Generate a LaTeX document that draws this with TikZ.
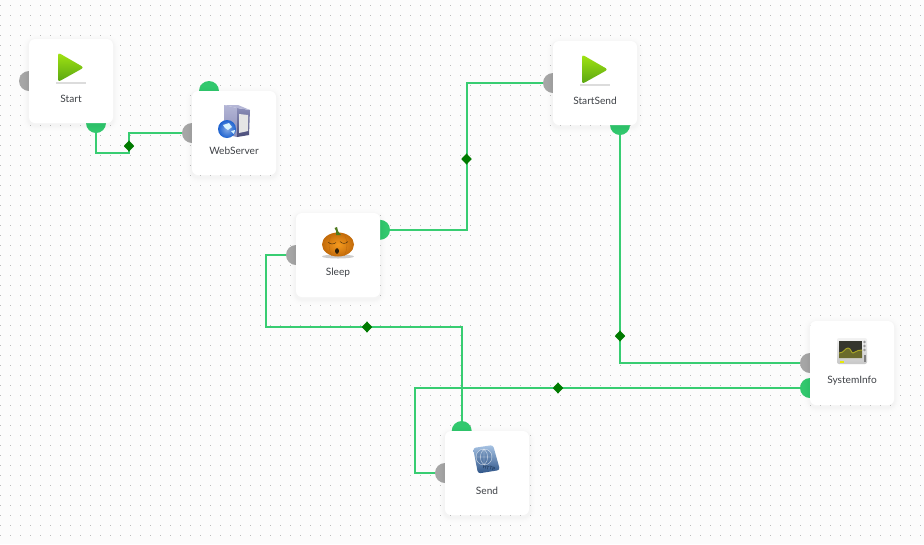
\documentclass[tikz,border=0pt]{standalone}
\usepackage{fontspec}
\setmainfont{Lato}
\usetikzlibrary{shapes.geometric}

\definecolor{canvas}{HTML}{FCFCFC}
\definecolor{griddot}{HTML}{BDBDBD}
\definecolor{wiregreen}{HTML}{38CD72}
\definecolor{portgreen}{HTML}{32C86E}
\definecolor{portgray}{HTML}{A6A6A6}
\definecolor{markgreen}{HTML}{007A00}
\definecolor{labeltext}{HTML}{3E4146}
\definecolor{playtop}{HTML}{A2E412}
\definecolor{playbottom}{HTML}{58A512}
\definecolor{towerlight}{HTML}{B4B6D6}
\definecolor{towermid}{HTML}{8A8DB8}
\definecolor{towerdark}{HTML}{4A4C78}
\definecolor{globeblue}{HTML}{1C62D0}
\definecolor{pumpkin}{HTML}{F59A1E}
\definecolor{pumpkindark}{HTML}{C26A0A}
\definecolor{stemgreen}{HTML}{4E7A1E}
\definecolor{sendlight}{HTML}{A8C4E4}
\definecolor{senddark}{HTML}{2E5488}
\definecolor{screendark}{HTML}{35362E}
\definecolor{screencurve}{HTML}{A8A628}
\definecolor{screenfill}{HTML}{6A6A2C}

\tikzset{
	card/.style={rectangle, rounded corners=4.5pt, fill=white, minimum size=63pt, inner sep=0pt,
		preaction={draw=black, draw opacity=0.004, line width=9pt, transform canvas={yshift=-1.5pt}},
		preaction={draw=black, draw opacity=0.005, line width=7pt, transform canvas={yshift=-1.5pt}},
		preaction={draw=black, draw opacity=0.006, line width=5pt, transform canvas={yshift=-1.5pt}},
		preaction={draw=black, draw opacity=0.007, line width=3.5pt, transform canvas={yshift=-1.5pt}},
		preaction={draw=black, draw opacity=0.008, line width=2pt, transform canvas={yshift=-1.5pt}}},
	cardlabel/.style={font=\fontsize{7.6}{9}\selectfont, text=labeltext, inner sep=0pt},
	inport/.style={circle, fill=portgray, minimum size=15pt, inner sep=0pt},
	outport/.style={circle, fill=portgreen, minimum size=15pt, inner sep=0pt},
	wire/.style={draw=wiregreen, line width=1.7pt},
	wiremark/.style={diamond, fill=markgreen, minimum width=8pt, minimum height=8.5pt, inner sep=0pt},
	playicon/.pic={
		\fill[black!30, opacity=0.45] (-15,1) rectangle (15,2.5);
		\shade[top color=playtop, bottom color=playbottom, rounded corners=2pt]
			(-13,-28.5) -- (13,-13.5) -- (-13,1) -- cycle;
	},
	servericon/.pic={
		\shade[top color=towerlight, bottom color=towermid] (-10,-28) -- (3,-25) -- (3,4) -- (-10,1) -- cycle;
		\shade[top color=towermid, bottom color=towerdark] (3,-25) -- (16,-23) -- (15,2) -- (3,4) -- cycle;
		\fill[towerlight] (-10,-28) -- (4,-28) -- (16,-23) -- (3,-25) -- cycle;
		\fill[black!10] (5,-19) -- (14,-18) -- (14,-2) -- (5,0) -- cycle;
		\shade[inner color=globeblue!55!white, outer color=globeblue] (-7,-4) circle (9);
		\fill[white!85!cyan] (-11,-8) -- (-5,-10) -- (-2,-6) -- (-6,-3) -- (-9,-5) -- cycle;
		\fill[white!85!cyan] (-3,-2) -- (1,-3) -- (0,1) -- cycle;
	},
	pumpkinicon/.pic={
		\fill[black, opacity=0.2] (0,1.5) ellipse [x radius=16, y radius=2];
		\shade[inner color=pumpkin, outer color=pumpkindark] (0,-10.5) ellipse [x radius=16, y radius=12];
		\draw[pumpkindark, line width=0.3pt] (-6,-21) .. controls (-10,-14) and (-10,-6) .. (-6,1);
		\draw[pumpkindark, line width=0.3pt] (6,-21) .. controls (10,-14) and (10,-6) .. (6,1);
		\fill[stemgreen] (-3.5,-27) -- (-1,-28) -- (0,-24) -- (3,-20) -- (-2,-20) -- (-2,-24) -- cycle;
		\draw[black!70!pumpkin, line width=0.35pt] (-10,-13) .. controls (-8,-10.5) and (-4,-10.5) .. (-2,-12.5);
		\draw[black!70!pumpkin, line width=0.35pt] (2,-13.5) .. controls (4,-11) and (8,-11) .. (10,-13.5);
		\fill[black!80!pumpkin] (-1,-4) ellipse [x radius=2, y radius=2.8];
	},
	sendicon/.pic={
		\shade[top color=sendlight, bottom color=senddark, rounded corners=2pt]
			(-14,-25) -- (6,-28) -- (13,-3) -- (-9,0.5) -- cycle;
		\fill[senddark, opacity=0.25] (-3,-16) circle (8);
		\draw[white, opacity=0.7, line width=0.3pt] (-3,-16) circle (8) (-11,-16) -- (5,-16) (-3,-24) -- (-3,-8)
			(-3,-24) .. controls (-8,-20) and (-8,-12) .. (-3,-8) (-3,-24) .. controls (2,-20) and (2,-12) .. (-3,-8);
		\node[font=\bfseries\fontsize{3.6}{4}\selectfont, text=senddark!70!black, rotate=-12, inner sep=0pt] (sendiconlabel) at (2,-5) {HTTP};
	},
	monitoricon/.pic={
		\shade[top color=black!5, bottom color=black!22, rounded corners=1.5pt] (-15,-25) rectangle (15,1);
		\fill[screendark] (-13,-22) rectangle (10,-5);
		\fill[screenfill] (-13,-10) .. controls (-8,-10) and (-7,-15) .. (-4,-15)
			.. controls (-1,-15) and (-1,-10) .. (1,-10) .. controls (3,-10) and (4,-13) .. (10,-13) -- (10,-5) -- (-13,-5) -- cycle;
		\draw[screencurve, line width=0.7pt] (-13,-10) .. controls (-8,-10) and (-7,-15) .. (-4,-15)
			.. controls (-1,-15) and (-1,-10) .. (1,-10) .. controls (3,-10) and (4,-13) .. (10,-13);
		\fill[black!40] (12.5,-21) circle (1.3) (12.5,-17) circle (1.3) (12.5,-13) circle (1.3);
		\fill[black!50] (11.5,-8) rectangle (14,-1);
		\fill[yellow!90!green] (-12,-2.5) rectangle (-8,-0.5);
	},
}

\begin{document}
\begin{tikzpicture}[x=0.75pt,y=-0.75pt]
	\useasboundingbox (0,0) rectangle (924,544);
	\fill[canvas] (0,0) rectangle (924,544);
	\foreach \x in {0,10,...,920}
		\foreach \y in {5,15,...,535}
			\fill[griddot] (\x,\y) rectangle ++(1,1);

	% ports
	\node[inport] (startin) at (29,81) {};
	\node[outport] (startout) at (96,123) {};
	\node[inport] (webserverin) at (192,133) {};
	\node[outport] (webserverout) at (209,91) {};
	\node[inport] (sleepin) at (296,255) {};
	\node[outport] (sleepout) at (380,229.8) {};
	\node[inport] (startsendin) at (553,83) {};
	\node[outport] (startsendout) at (620,125) {};
	\node[inport] (systeminfoin) at (810,363) {};
	\node[outport] (systeminfoout) at (810,388) {};
	\node[inport] (sendin) at (445,473) {};
	\node[outport] (sendout) at (461.7,431) {};

	% connectors
	\coordinate (startbend) at (96,152.8);
	\coordinate (startup) at (129,152.8);
	\coordinate (startover) at (129,133);
	\draw[wire] (startout) -- (startbend) -- (startup) -- (startover) -- (webserverin);

	\coordinate (sleepbend) at (467,229.8);
	\coordinate (sleepup) at (467,83);
	\draw[wire] (sleepout) -- (sleepbend) -- (sleepup) -- (startsendin);

	\coordinate (startsendbend) at (620,363);
	\draw[wire] (startsendout) -- (startsendbend) -- (systeminfoin);

	\coordinate (sleepleft) at (266,255);
	\coordinate (sleepdown) at (266,327);
	\coordinate (sendabove) at (461.7,327);
	\draw[wire] (sleepin) -- (sleepleft) -- (sleepdown) -- (sendabove) -- (sendout);

	\coordinate (infoleft) at (415,388);
	\coordinate (infodown) at (415,473);
	\draw[wire] (systeminfoout) -- (infoleft) -- (infodown) -- (sendin);

	\node[wiremark] (startmark) at (129,146) {};
	\node[wiremark] (sleepmark) at (466.5,159) {};
	\node[wiremark] (startsendmark) at (620,336) {};
	\node[wiremark] (sendmark) at (367,327) {};
	\node[wiremark] (infomark) at (558,388) {};

	% cards
	\node[card] (start) at (71,81) {};
	\node[card] (webserver) at (234,133) {};
	\node[card] (sleep) at (338,255) {};
	\node[card] (startsend) at (595,83) {};
	\node[card] (systeminfo) at (852,363) {};
	\node[card] (send) at (487,473) {};

	\pic at (start) {playicon};
	\pic at (webserver) {servericon};
	\pic at (sleep) {pumpkinicon};
	\pic at (startsend) {playicon};
	\pic at (systeminfo) {monitoricon};
	\pic at (send) {sendicon};

	\node[cardlabel] (startlabel) at (71,99) {Start};
	\node[cardlabel] (webserverlabel) at (234,151) {WebServer};
	\node[cardlabel] (sleeplabel) at (338,273) {Sleep};
	\node[cardlabel] (startsendlabel) at (595,101) {StartSend};
	\node[cardlabel] (systeminfolabel) at (852,381) {SystemInfo};
	\node[cardlabel] (sendlabel) at (487,491) {Send};
\end{tikzpicture}
\end{document}
